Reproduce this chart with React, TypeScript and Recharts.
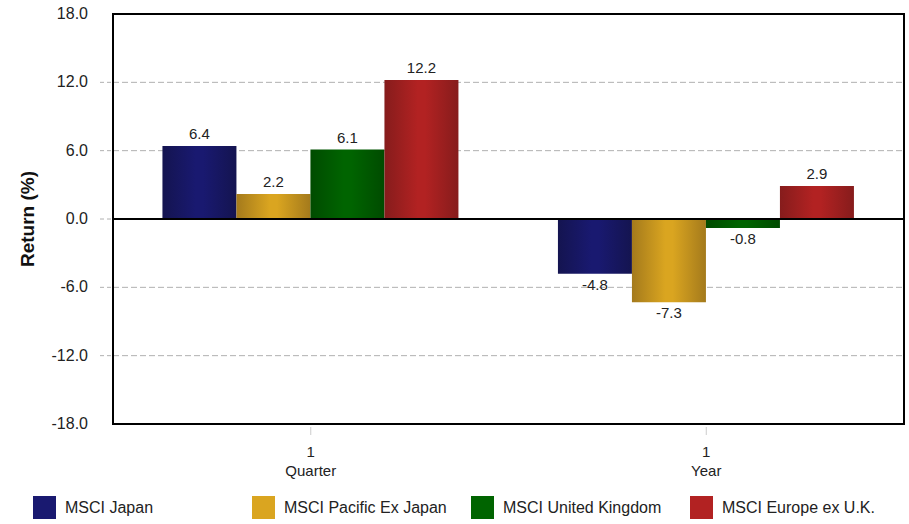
import React from 'react';
import { BarChart, Bar, XAxis, YAxis, CartesianGrid, ReferenceLine, ReferenceArea, LabelList, Legend } from 'recharts';

const periods = ['1 Quarter', '1 Year'];
const japan = [6.4, -4.8];
const pacificExJapan = [2.2, -7.3];
const unitedKingdom = [6.1, -0.8];
const europeExUK = [12.2, 2.9];
const yTicks = [-18, -12, -6, 0, 6, 12, 18];

const FONT = '"Liberation Sans", Arial, sans-serif';
const TEXT = '#222';
const GRID = '#b0b0b0';

const SERIES = [
  { key: 'japan', name: 'MSCI Japan', values: japan, color: '#191970', edge: '#141450' },
  { key: 'pacific', name: 'MSCI Pacific Ex Japan', values: pacificExJapan, color: '#daa520', edge: '#a47a1c' },
  { key: 'uk', name: 'MSCI United Kingdom', values: unitedKingdom, color: '#006400', edge: '#004b00' },
  { key: 'europe', name: 'MSCI Europe ex U.K.', values: europeExUK, color: '#b22222', edge: '#861c1c' },
];

const data = periods.map((period, i) => {
  const row: Record<string, string | number> = { period };
  SERIES.forEach((s) => (row[s.key] = s.values[i]));
  return row;
});

// y tick: dashed stub outside the frame + right-aligned label (no stub at the frame edges)
const YTick = (props: any) => {
  const { x, y, payload } = props;
  const edge = payload.value === 18 || payload.value === -18;
  return (
    <g>
      {!edge && (
        <line x1={x + 12} x2={x + 25} y1={y} y2={y} stroke={GRID} strokeDasharray="4 3" />
      )}
      <text x={x} y={y + 5} textAnchor="end" fill={TEXT} fontSize={16} fontFamily={FONT}>
        {payload.value.toFixed(1)}
      </text>
    </g>
  );
};

const XTick = (props: any) => {
  const { x, y, payload } = props;
  const [count, unit] = String(payload.value).split(' ');
  return (
    <g>
      <line x1={x} x2={x} y1={y + 3} y2={y + 11} stroke="#ccc" />
      <text x={x} y={y + 33} textAnchor="middle" fill={TEXT} fontSize={15} fontFamily={FONT}>
        {count}
      </text>
      <text x={x} y={y + 52} textAnchor="middle" fill={TEXT} fontSize={15} fontFamily={FONT}>
        {unit}
      </text>
    </g>
  );
};

const ValueLabel = (props: any) => {
  const { x, y, width, height, value } = props;
  const top = Math.min(y, y + height);
  const bottom = Math.max(y, y + height);
  const ty = value >= 0 ? top - 7 : bottom + 16;
  return (
    <text x={x + width / 2} y={ty} textAnchor="middle" fill={TEXT} fontSize={15} fontFamily={FONT}>
      {Number(value).toFixed(1)}
    </text>
  );
};

const LegendRow = () => (
  <div style={{ position: 'relative', width: 909, height: 30, fontFamily: FONT, fontSize: 16, color: TEXT }}>
    {SERIES.map((s, i) => (
      <div
        key={s.key}
        style={{ position: 'absolute', left: 33 + i * 219, top: 0, display: 'flex', alignItems: 'center' }}
      >
        <div style={{ width: 23, height: 23, background: s.color }} />
        <span style={{ marginLeft: 9 }}>{s.name}</span>
      </div>
    ))}
  </div>
);

export default function App() {
  return (
    <div style={{ position: 'absolute', left: 0, top: 0, background: '#fff' }}>
      <BarChart
        width={909}
        height={524}
        data={data}
        margin={{ top: 14, right: 5, bottom: 40, left: 0 }}
        barCategoryGap="12.5%"
        barGap={0}
      >
        <defs>
          {SERIES.map((s) => (
            <linearGradient key={s.key} id={`grad-${s.key}`} x1="0" y1="0" x2="1" y2="0">
              <stop offset="0%" stopColor={s.edge} />
              <stop offset="45%" stopColor={s.color} />
              <stop offset="55%" stopColor={s.color} />
              <stop offset="100%" stopColor={s.edge} />
            </linearGradient>
          ))}
        </defs>
        <CartesianGrid vertical={false} stroke={GRID} strokeDasharray="6 3" />
        <XAxis
          dataKey="period"
          height={60}
          tickSize={0}
          tickMargin={0}
          tickLine={false}
          axisLine={{ stroke: '#000', strokeWidth: 2 }}
          tick={<XTick />}
        />
        <YAxis
          type="number"
          domain={[-18, 18]}
          ticks={yTicks}
          interval={0}
          width={113}
          tickSize={0}
          tickMargin={25}
          tickLine={false}
          axisLine={{ stroke: '#000', strokeWidth: 2 }}
          tick={<YTick />}
          label={{
            value: 'Return (%)',
            angle: -90,
            position: 'insideLeft',
            offset: 27,
            style: { textAnchor: 'middle', fontFamily: FONT, fontSize: 19, fontWeight: 'bold', fill: '#111' },
          }}
        />
        <ReferenceArea y1={-18} y2={18} fill="none" stroke="#000" strokeWidth={2} />
        <ReferenceLine y={0} stroke="#000" strokeWidth={2} />
        {SERIES.map((s) => (
          <Bar key={s.key} dataKey={s.key} name={s.name} fill={`url(#grad-${s.key})`} isAnimationActive={false}>
            <LabelList dataKey={s.key} content={<ValueLabel />} />
          </Bar>
        ))}
        <Legend
          layout="horizontal"
          verticalAlign="middle"
          align="center"
          wrapperStyle={{ top: 496, left: 0, width: 909 }}
          content={() => <LegendRow />}
        />
      </BarChart>
    </div>
  );
}
